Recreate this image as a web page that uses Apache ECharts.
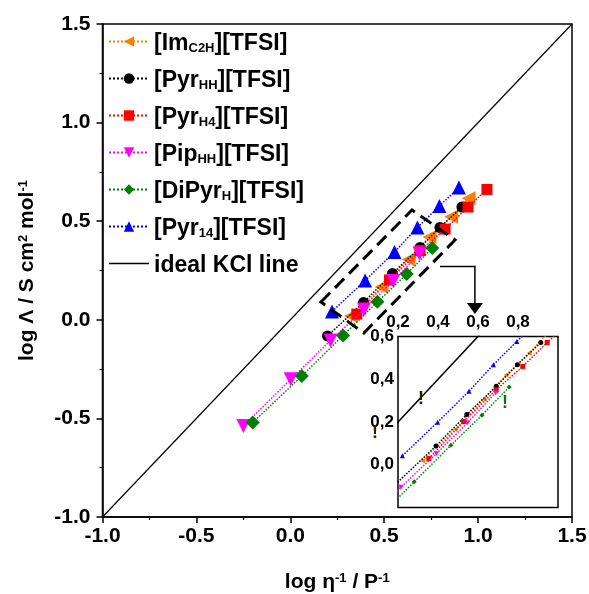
<!DOCTYPE html>
<html><head><meta charset="utf-8">
<script src="https://cdn.jsdelivr.net/npm/echarts@6/dist/echarts.min.js"></script>
<style>html,body{margin:0;padding:0;background:#fff}#c{width:589px;height:594px}</style>
</head><body><div id="c"></div>
<script>
// ---- data (log eta^-1 / P^-1, log Lambda / S cm2 mol-1) ----
const seriesNames = ['[ImC2H][TFSI]', '[PyrHH][TFSI]', '[PyrH4][TFSI]', '[PipHH][TFSI]', '[DiPyrH][TFSI]', '[Pyr14][TFSI]', 'ideal KCl line'];
const imC2H  = [[0.323,0.019],[0.486,0.166],[0.629,0.306],[0.741,0.420],[0.856,0.523],[0.949,0.616]];
const pyrHH  = [[0.198,-0.082],[0.390,0.088],[0.544,0.235],[0.691,0.367],[0.797,0.468],[0.914,0.572]];
const pyrH4  = [[0.354,0.029],[0.528,0.202],[0.691,0.351],[0.824,0.460],[0.946,0.572],[1.047,0.661]];
const pipHH  = [[-0.250,-0.539],[0.002,-0.302],[0.214,-0.105],[0.392,0.052],[0.548,0.197],[0.688,0.336]];
const diPyrH = [[-0.200,-0.521],[0.061,-0.285],[0.281,-0.080],[0.464,0.091],[0.620,0.232],[0.756,0.364]];
const pyr14  = [[0.222,0.042],[0.398,0.199],[0.555,0.344],[0.677,0.468],[0.794,0.577],[0.898,0.671]];
const idealKCl = [[-1,-1],[1.5,1.5]];
const mainTicks = [-1.0, -0.5, 0.0, 0.5, 1.0, 1.5];
const insetTicksX = [0.2, 0.4, 0.6, 0.8, 1.0];
const insetTicksY = [-0.2, 0.0, 0.2, 0.4, 0.6];
// annotation (data coords of the main plot)
const zoomBox = [[0.163,0.090],[0.648,0.557],[0.877,0.405],[0.392,-0.067]];
const arrowPath = [[0.797,0.270],[0.983,0.270],[0.983,0.075]];

const FONT = 'Liberation Sans';
const styles = [
  {data: imC2H,  color:'#FF8000', symbol:'triangle', rotate: 90, size: 14},
  {data: pyrHH,  color:'#000000', symbol:'circle',   rotate: 0,  size: 11},
  {data: pyrH4,  color:'#FF0000', symbol:'rect',     rotate: 0,  size: 11},
  {data: pipHH,  color:'#FF00FF', symbol:'triangle', rotate: 180,size: 14},
  {data: diPyrH, color:'#008000', symbol:'diamond',  rotate: 0,  size: 14},
  {data: pyr14,  color:'#0000FF', symbol:'triangle', rotate: 0,  size: 14}
];
const legendRich = {
  '[ImC2H][TFSI]': '{n|[Im}{s|C2H}{n|][TFSI]}',
  '[PyrHH][TFSI]': '{n|[Pyr}{s|HH}{n|][TFSI]}',
  '[PyrH4][TFSI]': '{n|[Pyr}{s|H4}{n|][TFSI]}',
  '[PipHH][TFSI]': '{n|[Pip}{s|HH}{n|][TFSI]}',
  '[DiPyrH][TFSI]': '{n|[DiPyr}{s|H}{n|][TFSI]}',
  '[Pyr14][TFSI]': '{n|[Pyr}{s|14}{n|][TFSI]}',
  'ideal KCl line': '{n|ideal KCl line}'
};

const series = [];
styles.forEach((st, i) => {
  series.push({
    name: seriesNames[i], type: 'line', xAxisIndex: 0, yAxisIndex: 0, data: st.data,
    symbol: st.symbol, symbolRotate: st.rotate, symbolSize: st.size, showAllSymbol: true,
    itemStyle: {color: st.color}, lineStyle: {color: st.color, type: 'dotted', width: 1.5},
    z: 3 + i
  });
});
series.push({name: seriesNames[6], type:'line', xAxisIndex:0, yAxisIndex:0, data: idealKCl,
  symbol:'none', itemStyle:{color:'#000'}, lineStyle:{color:'#000', width:1.2, type:'solid'}, z:2});
styles.forEach((st, i) => {
  series.push({
    name: seriesNames[i], type: 'line', xAxisIndex: 1, yAxisIndex: 1, data: st.data,
    symbol: st.symbol, symbolRotate: st.rotate, symbolSize: 5, showAllSymbol: true, clip: true,
    itemStyle: {color: st.color}, lineStyle: {color: st.color, type: 'dotted', width: 1.5},
    z: 13 + i
  });
});
series.push({name: seriesNames[6], type:'line', xAxisIndex:1, yAxisIndex:1, data: idealKCl, clip: true,
  symbol:'none', itemStyle:{color:'#000'}, lineStyle:{color:'#000', width:1.5}, z:12});

const labelBase = {color:'#000', fontWeight:'bold', fontFamily: FONT};
const legendData = seriesNames.map((n, i) => i === 6
  ? {name: n, icon: 'path://M0,0L40,0L40,1.5L0,1.5Z', itemStyle: {color:'#000'}}
  : {name: n});
const chart = echarts.init(document.getElementById('c'), null, {renderer:'canvas'});
chart.setOption({
  animation: false,
  backgroundColor: '#fff',
  grid: [
    {left: 102.5, top: 24, right: 17, bottom: 77, show: true, borderColor:'#000', borderWidth: 1.5, backgroundColor:'transparent', outerBoundsMode:'none', containLabel:false},
    {left: 398, top: 336.5, width: 160, height: 171, show: true, borderColor:'#000', borderWidth: 1.5, backgroundColor:'#fff', outerBoundsMode:'none', containLabel:false, z: 10}
  ],
  legend: {
    orient: 'vertical', left: 108, top: 32, padding: 0, itemWidth: 40, itemHeight: 13, itemGap: 14,
    data: legendData, selectedMode: false,
    formatter: n => legendRich[n],
    textStyle: {rich: {
      n: Object.assign({fontSize: 23, lineHeight: 27, verticalAlign:'bottom'}, labelBase),
      s: Object.assign({fontSize: 13, lineHeight: 13, verticalAlign:'bottom'}, labelBase)
    }}
  },
  xAxis: [
    {gridIndex: 0, type:'value', min: mainTicks[0], max: mainTicks[mainTicks.length-1], interval: 0.5,
     axisLine:{show:true, onZero:false, lineStyle:{color:'#000', width:1.5}},
     axisTick:{show:true, inside:false, length:6, lineStyle:{color:'#000', width:1.5}},
     minorTick:{show:true, splitNumber:2, length:3, lineStyle:{color:'#000', width:1.2}},
     splitLine:{show:false},
     axisLabel: Object.assign({fontSize: 21, margin: 9, formatter: v => v.toFixed(1)}, labelBase),
     name: '{t|log η}{p|-1}{t| / P}{p|-1}', nameLocation:'middle', nameGap: 55,
     nameTextStyle: {rich: {
       t: Object.assign({fontSize: 21, lineHeight: 26, verticalAlign:'top'}, labelBase),
       p: Object.assign({fontSize: 13, lineHeight: 13, verticalAlign:'top'}, labelBase)
     }}},
    {gridIndex: 1, type:'value', position:'top', min: insetTicksX[0], max: insetTicksX[insetTicksX.length-1], interval: 0.2,
     axisLine:{show:false}, axisTick:{show:false}, splitLine:{show:false},
     axisLabel: Object.assign({fontSize: 17, margin: 6, showMaxLabel:false, formatter: v => v.toFixed(1).replace('.', ',')}, labelBase)}
  ],
  yAxis: [
    {gridIndex: 0, type:'value', min: mainTicks[0], max: mainTicks[mainTicks.length-1], interval: 0.5,
     axisLine:{show:true, onZero:false, lineStyle:{color:'#000', width:1.5}},
     axisTick:{show:true, inside:false, length:6, lineStyle:{color:'#000', width:1.5}},
     minorTick:{show:true, splitNumber:2, length:3, lineStyle:{color:'#000', width:1.2}},
     splitLine:{show:false},
     axisLabel: Object.assign({fontSize: 21, margin: 12, formatter: v => v.toFixed(1)}, labelBase),
     name: '{t|log Λ / S cm}{p|2}{t| mol}{p|-1}', nameLocation:'middle', nameGap: 60, nameRotate: 90,
     nameTextStyle: {rich: {
       t: Object.assign({fontSize: 21, lineHeight: 26, verticalAlign:'top'}, labelBase),
       p: Object.assign({fontSize: 13, lineHeight: 13, verticalAlign:'top'}, labelBase)
     }}},
    {gridIndex: 1, type:'value', min: insetTicksY[0], max: insetTicksY[insetTicksY.length-1], interval: 0.2,
     axisLine:{show:false}, axisTick:{show:false}, splitLine:{show:false},
     axisLabel: Object.assign({fontSize: 17, margin: 4, showMinLabel:false, formatter: v => v.toFixed(1).replace('.', ',')}, labelBase)}
  ],
  series: series
});

const px = p => chart.convertToPixel({gridIndex: 0}, p);
const boxPts = zoomBox.map(px);
const arr = arrowPath.map(px);
const tip = arr[arr.length-1];
chart.setOption({
  graphic: [
    {type:'polygon', shape:{points: boxPts}, style:{fill:'none', stroke:'#000', lineWidth:3, lineDash:[13,7]}, z: 20},
    {type:'polyline', shape:{points: arr}, style:{fill:'none', stroke:'#000', lineWidth:1.5}, z: 20},
    {type:'polygon', shape:{points: [[tip[0]-8, tip[1]-2],[tip[0]+8, tip[1]-2],[tip[0], tip[1]+9]]}, style:{fill:'#000'}, z: 20},
    {type:'text', left: 418, top: 390, style:{text:'!', font:'bold 18px Liberation Sans', fill:'#2a2000'}, z: 30},
    {type:'text', left: 502, top: 394, style:{text:'!', font:'bold 18px Liberation Sans', fill:'#1a6b1a'}, z: 30},
    {type:'text', left: 372, top: 424, style:{text:'!', font:'bold 18px Liberation Sans', fill:'#2a2000'}, z: 30}
  ]
});
</script>
</body></html>
